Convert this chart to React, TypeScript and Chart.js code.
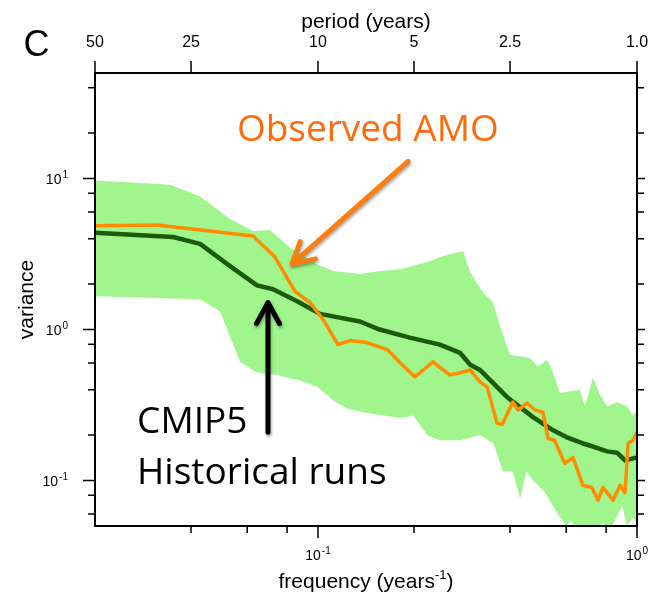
import { useEffect, useRef } from "react";
import { Chart, registerables } from "chart.js";

Chart.register(...registerables);

// ---- Data (frequency in years^-1, variance) ----
const upperFreq = [0.02, 0.0344, 0.0427, 0.053, 0.0626, 0.0707, 0.0817, 0.0993, 0.1115, 0.1354, 0.156, 0.181, 0.22, 0.247, 0.285, 0.30, 0.329, 0.354, 0.372, 0.40, 0.46, 0.49, 0.523, 0.542, 0.574, 0.617, 0.662, 0.687, 0.728, 0.766, 0.806, 0.866, 0.93, 0.972, 1.0];
const upperVar = [9.7, 9.1, 7.6, 5.4, 4.5, 4.57, 3.5, 2.71, 2.44, 2.33, 2.44, 2.51, 2.8, 3.07, 3.31, 2.4, 1.76, 1.51, 1.05, 0.68, 0.65, 0.57, 0.63, 0.54, 0.38, 0.39, 0.4, 0.31, 0.48, 0.37, 0.31, 0.33, 0.31, 0.27, 0.29];

const lowerFreq = [0.02, 0.0427, 0.0493, 0.057, 0.0644, 0.0744, 0.0878, 0.0993, 0.1115, 0.1233, 0.1424, 0.181, 0.199, 0.22, 0.241, 0.279, 0.322, 0.355, 0.38, 0.408, 0.43, 0.45, 0.472, 0.51, 0.56, 0.60, 0.62, 0.65, 0.75, 0.78, 0.82, 0.898, 0.93, 0.972, 1.0];
const lowerVar = [1.66, 1.585, 1.32, 0.61, 0.52, 0.5, 0.46, 0.42, 0.34, 0.3, 0.28, 0.26, 0.27, 0.2, 0.185, 0.185, 0.2, 0.176, 0.115, 0.115, 0.076, 0.115, 0.1, 0.086, 0.062, 0.05, 0.054, 0.046, 0.046, 0.053, 0.046, 0.068, 0.05, 0.057, 0.053];

const meanFreq = [0.02, 0.0351, 0.0427, 0.053, 0.0644, 0.0723, 0.086, 0.1014, 0.1354, 0.156, 0.194, 0.241, 0.279, 0.30, 0.322, 0.391, 0.472, 0.546, 0.60, 0.677, 0.728, 0.806, 0.866, 0.917, 1.0];
const meanVar = [4.37, 4.1, 3.69, 2.63, 1.96, 1.85, 1.54, 1.27, 1.13, 1.0, 0.884, 0.794, 0.7, 0.584, 0.54, 0.358, 0.263, 0.215, 0.194, 0.176, 0.168, 0.156, 0.153, 0.136, 0.142];

const amoFreq = [0.02, 0.0313, 0.0626, 0.0733, 0.0847, 0.0944, 0.1037, 0.1155, 0.126, 0.1424, 0.165, 0.181, 0.201, 0.22, 0.229, 0.259, 0.279, 0.30, 0.322, 0.339, 0.364, 0.378, 0.408, 0.424, 0.452, 0.479, 0.507, 0.526, 0.551, 0.594, 0.63, 0.677, 0.722, 0.755, 0.782, 0.842, 0.885, 0.917, 0.938, 0.972, 1.0];
const amoVar = [4.86, 4.93, 4.17, 3.02, 1.79, 1.51, 1.166, 0.794, 0.845, 0.82, 0.736, 0.603, 0.486, 0.567, 0.612, 0.501, 0.517, 0.54, 0.45, 0.417, 0.24, 0.235, 0.331, 0.293, 0.326, 0.293, 0.284, 0.19, 0.185, 0.13, 0.142, 0.093, 0.09, 0.074, 0.09, 0.074, 0.093, 0.083, 0.176, 0.185, 0.209];

// ---- Ticks ----
const periodTicks = [50, 25, 10, 5, 2.5, 1.0];
const periodLabels = ["50", "25", "10", "5", "2.5", "1.0"];
const xMajorTicks = [0.1, 1];
const xMajorExp = ["-1", "0"];
const xMinorTicks = [0.04, 0.06, 0.08, 0.2, 0.4, 0.6, 0.8];
const yMajorTicks = [10, 1, 0.1];
const yMajorExp = ["1", "0", "-1"];
const yMinorTicks = [0.06, 0.08, 0.2, 0.4, 0.6, 0.8, 2, 4, 6, 8, 20, 40];

// ---- Annotations (data coordinates) ----
const amoArrowFrom = { x: 0.1916, y: 12.98 };
const amoArrowTo = { x: 0.0829, y: 2.71 };
const amoText = { x: 0.0557, y: 17.6, text: "Observed AMO" };
const cmipArrowFrom = { x: 0.0697, y: 0.209 };
const cmipArrowTo = { x: 0.0697, y: 1.51 };
const cmipText1 = { x: 0.0271, y: 0.206, text: "CMIP5" };
const cmipText2 = { x: 0.0271, y: 0.0955, text: "Historical runs" };

const BAND = "rgb(160,246,140)";
const MEAN = "#1c5a0c";
const ORANGE = "#ff8c00";
const AXF = '"Liberation Sans", Arial, Helvetica, sans-serif';
const ANF = '"Open Sans", "Noto Sans", sans-serif';

const pts = (xs: number[], ys: number[]) => xs.map((x, i) => ({ x, y: ys[i] }));

function drawPow(ctx: CanvasRenderingContext2D, x: number, y: number, base: string, exp: string, align: "center" | "right") {
  ctx.font = `14px ${AXF}`;
  const wb = ctx.measureText(base).width;
  ctx.font = `10px ${AXF}`;
  const we = ctx.measureText(exp).width;
  const total = wb + we + 1;
  const left = align === "center" ? x - total / 2 : x - total;
  ctx.textAlign = "left";
  ctx.textBaseline = "middle";
  ctx.font = `14px ${AXF}`;
  ctx.fillText(base, left, y);
  ctx.font = `10px ${AXF}`;
  ctx.fillText(exp, left + wb + 1, y - 5);
}

function arrow(ctx: CanvasRenderingContext2D, x0: number, y0: number, x1: number, y1: number, color: string, lw: number) {
  const ang = Math.atan2(y0 - y1, x0 - x1);
  const hl = 24, ha = 0.5;
  ctx.save();
  ctx.strokeStyle = color;
  ctx.lineWidth = lw;
  ctx.lineCap = "round";
  ctx.lineJoin = "round";
  ctx.shadowColor = "rgba(0,0,0,0.35)";
  ctx.shadowBlur = 3;
  ctx.shadowOffsetX = 1;
  ctx.shadowOffsetY = 2;
  ctx.beginPath();
  ctx.moveTo(x0, y0);
  ctx.lineTo(x1, y1);
  ctx.moveTo(x1 + hl * Math.cos(ang + ha), y1 + hl * Math.sin(ang + ha));
  ctx.lineTo(x1, y1);
  ctx.lineTo(x1 + hl * Math.cos(ang - ha), y1 + hl * Math.sin(ang - ha));
  ctx.stroke();
  ctx.restore();
}

const overlay = {
  id: "overlay",
  afterDraw(chart: any) {
    const { ctx, chartArea: a, scales } = chart;
    const X = (v: number) => scales.x.getPixelForValue(v);
    const Y = (v: number) => scales.y.getPixelForValue(v);
    const MAJ = 12, MIN = 7;
    ctx.save();
    ctx.fillStyle = "#000";
    ctx.strokeStyle = "#000";
    // ticks
    ctx.lineWidth = 1.5;
    ctx.beginPath();
    for (const f of xMajorTicks) { const p = X(f); ctx.moveTo(p, a.bottom); ctx.lineTo(p, a.bottom + MAJ); }
    for (const f of xMinorTicks) { const p = X(f); ctx.moveTo(p, a.bottom); ctx.lineTo(p, a.bottom + MIN); }
    for (const p0 of periodTicks) { const p = X(1 / p0); ctx.moveTo(p, a.top); ctx.lineTo(p, a.top - MAJ); }
    for (const v of yMajorTicks) {
      const p = Y(v);
      ctx.moveTo(a.left, p); ctx.lineTo(a.left - MAJ, p);
      ctx.moveTo(a.right, p); ctx.lineTo(a.right + 8, p);
    }
    for (const v of yMinorTicks) {
      const p = Y(v);
      ctx.moveTo(a.left, p); ctx.lineTo(a.left - MIN, p);
      ctx.moveTo(a.right, p); ctx.lineTo(a.right + MIN, p);
    }
    ctx.stroke();
    // frame
    ctx.lineWidth = 2;
    ctx.strokeRect(a.left, a.top, a.right - a.left, a.bottom - a.top);

    // tick labels
    xMajorTicks.forEach((f, i) => drawPow(ctx, X(f), a.bottom + 30, "10", xMajorExp[i], "center"));
    yMajorTicks.forEach((v, i) => drawPow(ctx, a.left - 27, Y(v) + 2, "10", yMajorExp[i], "right"));
    ctx.font = `16px ${AXF}`;
    ctx.textAlign = "center";
    ctx.textBaseline = "middle";
    periodTicks.forEach((p, i) => ctx.fillText(periodLabels[i], X(1 / p), a.top - 30));

    // axis titles
    const cx = (a.left + a.right) / 2;
    ctx.textBaseline = "alphabetic";
    ctx.font = `21px ${AXF}`;
    ctx.fillText("period (years)", cx, 28);
    // frequency (years^-1)
    const t1 = "frequency (years", t2 = "-1", t3 = ")";
    ctx.font = `21px ${AXF}`;
    const w1 = ctx.measureText(t1).width, w3 = ctx.measureText(t3).width;
    ctx.font = `13px ${AXF}`;
    const w2 = ctx.measureText(t2).width;
    const lx = cx - (w1 + w2 + w3) / 2;
    const by = 588;
    ctx.textAlign = "left";
    ctx.font = `21px ${AXF}`;
    ctx.fillText(t1, lx, by);
    ctx.font = `13px ${AXF}`;
    ctx.fillText(t2, lx + w1, by - 9);
    ctx.font = `21px ${AXF}`;
    ctx.fillText(t3, lx + w1 + w2, by);
    // variance
    ctx.save();
    ctx.translate(33, (a.top + a.bottom) / 2);
    ctx.rotate(-Math.PI / 2);
    ctx.textAlign = "center";
    ctx.textBaseline = "alphabetic";
    ctx.font = `21px ${AXF}`;
    ctx.fillText("variance", 0, 0);
    ctx.restore();
    // panel letter
    ctx.textAlign = "center";
    ctx.textBaseline = "middle";
    ctx.font = `36px ${AXF}`;
    ctx.fillText("C", 36.5, 46);

    // annotations
    arrow(ctx, X(amoArrowFrom.x), Y(amoArrowFrom.y), X(amoArrowTo.x), Y(amoArrowTo.y), "#fb7f10", 5);
    arrow(ctx, X(cmipArrowFrom.x), Y(cmipArrowFrom.y), X(cmipArrowTo.x), Y(cmipArrowTo.y), "#000", 5);
    ctx.textAlign = "left";
    ctx.textBaseline = "alphabetic";
    ctx.font = `37px ${ANF}`;
    ctx.fillStyle = "#ff6a0d";
    ctx.fillText(amoText.text, X(amoText.x), Y(amoText.y));
    ctx.fillStyle = "#000";
    ctx.fillText(cmipText1.text, X(cmipText1.x), Y(cmipText1.y));
    ctx.fillText(cmipText2.text, X(cmipText2.x), Y(cmipText2.y));
    ctx.restore();
  },
};

export default function App() {
  const ref = useRef<HTMLCanvasElement>(null);
  useEffect(() => {
    const canvas = ref.current!;
    const chart = new Chart(canvas, {
      type: "line",
      data: {
        datasets: [
          { label: "CMIP5 upper", data: pts(upperFreq, upperVar), borderColor: "rgba(0,0,0,0)", borderWidth: 1, backgroundColor: BAND, fill: "+1", pointRadius: 0, tension: 0, order: 3 },
          { label: "CMIP5 lower", data: pts(lowerFreq, lowerVar), borderColor: "rgba(0,0,0,0)", borderWidth: 1, fill: false, pointRadius: 0, tension: 0, order: 4 },
          { label: "CMIP5 mean", data: pts(meanFreq, meanVar), borderColor: MEAN, borderWidth: 4.5, fill: false, pointRadius: 0, tension: 0, order: 2, borderJoinStyle: "round" },
          { label: "Observed AMO", data: pts(amoFreq, amoVar), borderColor: ORANGE, borderWidth: 3.5, fill: false, pointRadius: 0, tension: 0, order: 1, borderJoinStyle: "round" },
        ],
      },
      options: {
        animation: false,
        responsive: false,
        devicePixelRatio: 1,
        layout: { padding: { left: 95, right: 19, top: 73, bottom: 82 } },
        plugins: { legend: { display: false }, tooltip: { enabled: false }, title: { display: false } },
        scales: {
          x: { type: "logarithmic", min: 0.02, max: 1, display: false },
          y: { type: "logarithmic", min: 0.05, max: 50, display: false },
        },
      },
      plugins: [overlay],
    } as any);
    return () => chart.destroy();
  }, []);
  return (
    <div style={{ position: "fixed", left: 0, top: 0, width: 656, height: 608, background: "#fff" }}>
      <canvas ref={ref} width={656} height={608} style={{ display: "block", width: 656, height: 608 }} />
    </div>
  );
}
